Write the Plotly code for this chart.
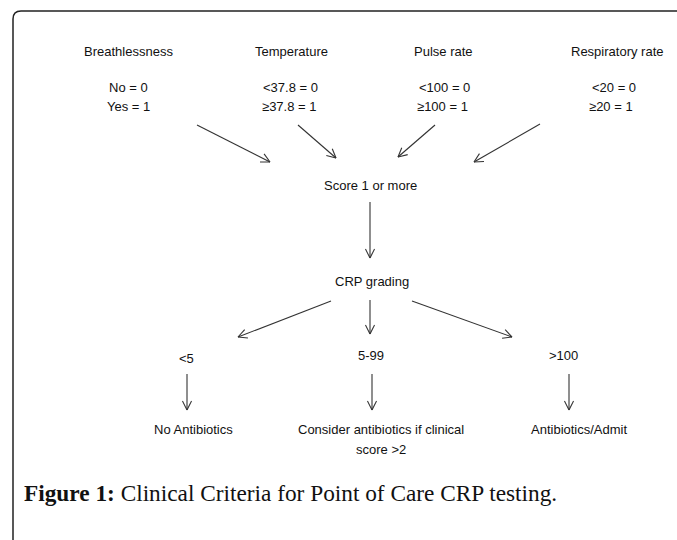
import math
import plotly.graph_objects as go

# ---- content (text) ----
criteria = ["Breathlessness", "Temperature", "Pulse rate", "Respiratory rate"]
score_zero = ["No = 0", "<37.8 = 0", "<100 = 0", "<20 = 0"]
score_one = ["Yes = 1", "≥37.8 = 1", "≥100 = 1", "≥20 = 1"]
threshold_label = "Score 1 or more"
grading_label = "CRP grading"
crp_bands = ["<5", "5-99", ">100"]
actions = [["No Antibiotics"], ["Consider antibiotics if clinical", "score >2"], ["Antibiotics/Admit"]]
caption_bold = "Figure 1:"
caption_text = " Clinical Criteria for Point of Care CRP testing."

# ---- layout (pixel positions in a 677x540 canvas) ----
W, H = 677, 540
crit_x = [128, 291, 443, 617]
zero_x = [128, 290, 444, 614]
one_x = [128, 289, 442, 611]
crit_y, zero_y, one_y = 51, 87, 106
thr_pos = (370, 185)
grad_pos = (372, 281)
band_x = [186, 371, 563]
band_y = [358, 355, 355]
action_x = [193, 381, 579]
action_y = 429
line_gap = 20
arrows = [
    ((197, 125), (270, 162)),
    ((298, 125), (336, 158)),
    ((435, 125), (398, 157)),
    ((540, 124), (474, 162)),
    ((370, 202), (370, 258)),
    ((331, 301), (238, 337)),
    ((370, 300), (370, 334)),
    ((412, 301), (512, 337)),
    ((187, 374), (187, 410)),
    ((372, 374), (372, 410)),
    ((569, 374), (569, 410)),
]

TXT = "#111111"
FONT = "Liberation Sans"
FS = 13

fig = go.Figure()

# arrows as line traces (shaft + open V head)
xs, ys = [], []
head_len, head_ang = 10, math.radians(27)
for (x0, y0), (x1, y1) in arrows:
    xs += [x0, x1, None]
    ys += [y0, y1, None]
    ang = math.atan2(y1 - y0, x1 - x0)
    for s in (1, -1):
        a = ang + math.pi + s * head_ang
        xs += [x1 + head_len * math.cos(a), x1, None]
        ys += [y1 + head_len * math.sin(a), y1, None]
fig.add_trace(go.Scatter(x=xs, y=ys, mode="lines",
                         line=dict(color="#333333", width=1.1),
                         hoverinfo="skip", showlegend=False))

ann = []
def txt(x, y, t, size=FS, anchor="center", family=FONT):
    ann.append(dict(x=x, y=y, text=t, showarrow=False, xanchor=anchor,
                    yanchor="middle", font=dict(family=family, size=size, color=TXT)))

for i, c in enumerate(criteria):
    txt(crit_x[i], crit_y, c)
    txt(zero_x[i], zero_y, score_zero[i])
    txt(one_x[i], one_y, score_one[i])
txt(*thr_pos, threshold_label)
txt(*grad_pos, grading_label)
for i, b in enumerate(crp_bands):
    txt(band_x[i], band_y[i], b)
for i, lines in enumerate(actions):
    for j, ln in enumerate(lines):
        txt(action_x[i], action_y + j * line_gap, ln)

ann.append(dict(x=22, y=493, text=f"<b>{caption_bold}</b>{caption_text}",
                showarrow=False, xanchor="left", yanchor="middle",
                font=dict(family="Liberation Serif", size=23.3, color="#111111")))

# border (top and left edges, rounded corner)
r = 8
fig.add_shape(type="path",
              path=f"M 13 {H} L 13 {11 + r} Q 13 11 {13 + r} 11 L {W} 11",
              line=dict(color="#222222", width=1.5))

fig.update_layout(
    width=W, height=H, margin=dict(l=0, r=0, t=0, b=0),
    paper_bgcolor="white", plot_bgcolor="white",
    xaxis=dict(range=[0, W], visible=False, fixedrange=True),
    yaxis=dict(range=[H, 0], visible=False, fixedrange=True),
    annotations=ann, showlegend=False,
)
fig.write_html("out.html", config={"displayModeBar": False},
               post_script="document.body.style.margin='0';document.body.style.overflow='hidden';")
